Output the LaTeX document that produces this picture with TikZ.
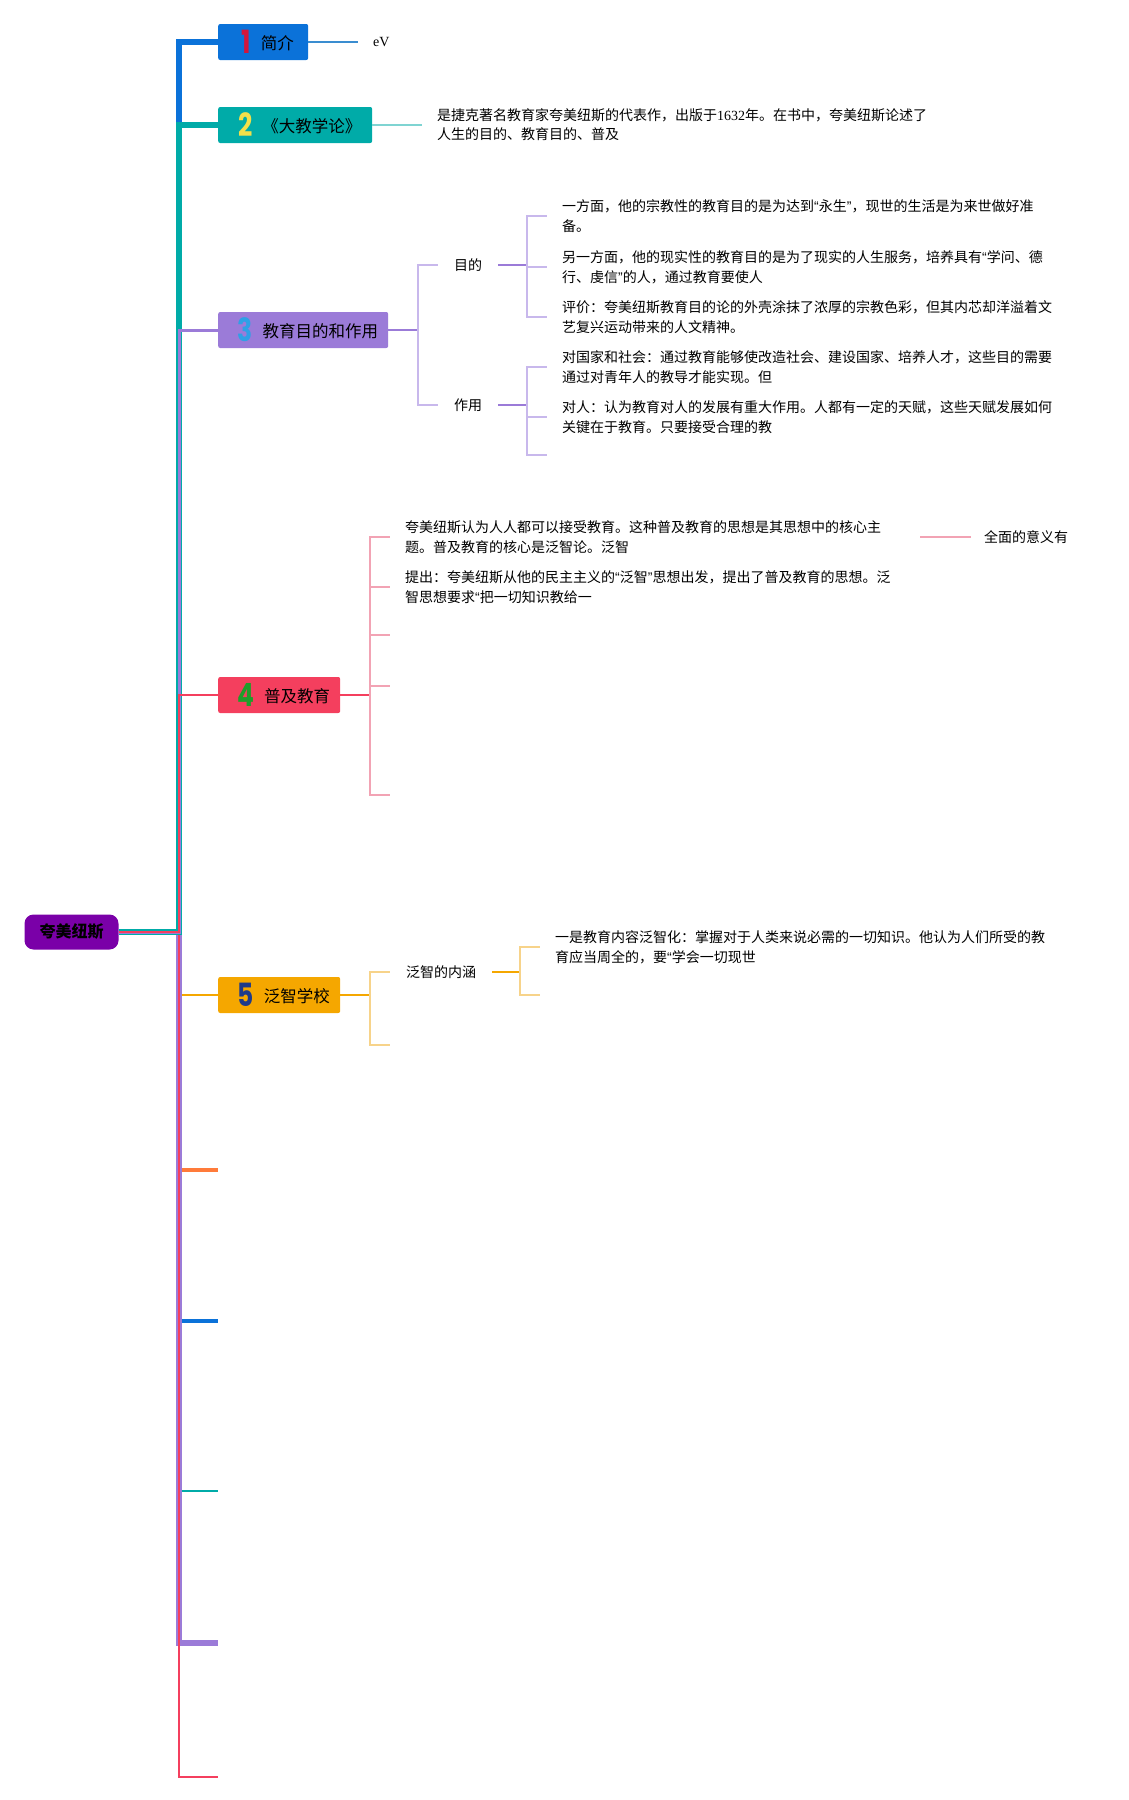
\documentclass[tikz,border=0pt]{standalone}
\usepackage{fontspec}
\usepackage{graphicx}
\setmainfont{Noto Sans CJK SC}
\newfontfamily\numfont{Poppins}
\newfontfamily\seriffont{Liberation Serif}
\newfontfamily\quotefont{Liberation Sans}
\usetikzlibrary{calc}

\definecolor{KMroot}{HTML}{7A00A8}
\definecolor{KMblue}{HTML}{0B72D9}
\definecolor{KMteal}{HTML}{00ABA8}
\definecolor{KMpurple}{HTML}{9B7BD8}
\definecolor{KMred}{HTML}{F43F5E}
\definecolor{KMamber}{HTML}{F5A700}
\definecolor{KMorange}{HTML}{FF7B3A}
\definecolor{KMblueL}{HTML}{3A8DD0}
\definecolor{KMtealL}{HTML}{7FD4D2}
\definecolor{KMpurpleL}{HTML}{C8B8EC}
\definecolor{KMredL}{HTML}{F2A3B4}
\definecolor{KMamberL}{HTML}{F7D38A}
\definecolor{KMdigA}{HTML}{D4163C}
\definecolor{KMdigB}{HTML}{F2E04A}
\definecolor{KMdigC}{HTML}{2FA0E6}
\definecolor{KMdigD}{HTML}{1E9E2A}
\definecolor{KMdigE}{HTML}{1E3A8A}

% coloured number and label of a topic box
\newcommand{\tnum}[3]{\hspace{9pt}\scalebox{0.78}[1]{\numfont\bfseries\fontsize{32}{32}\selectfont\textcolor{#1}{#2}}\hspace{10pt}\raisebox{4pt}{#3}}
% narrow quotes
\newcommand{\oq}{{\quotefont “}}
\newcommand{\cq}{{\quotefont ”}}

\begin{document}
\begin{tikzpicture}[x=1pt,y=-1pt,
   topic/.style={rectangle, rounded corners=2pt, minimum height=36pt, anchor=west,
      inner sep=0pt, font=\fontsize{16.5}{18}\selectfont},
   sub/.style={anchor=west, inner xsep=16pt, inner ysep=2pt, font=\fontsize{14}{16}\selectfont},
   leaf/.style={anchor=west, inner xsep=15pt, inner ysep=2pt, align=left, text width=503pt,
      font=\fontsize{14}{20}\selectfont},
   stub/.style={line width=2pt},
   twig/.style={line width=1.5pt}]
   \useasboundingbox (0,0) rectangle (1129,1800);
   % Root
   \node[fill=KMroot, rounded corners=9pt, minimum width=94pt, minimum height=35pt,
      font=\fontsize{16}{18}\selectfont\bfseries] (root) at (71.5,932) {夸美纽斯};
   \coordinate (spine) at (179,932);
   % Topics
   \node[topic, fill=KMblue, minimum width=90pt] (n1) at (218,42) {\tnum{KMdigA}{1}{简介}};
   \node[topic, fill=KMteal, minimum width=154pt] (n2) at (218,125) {\tnum{KMdigB}{2}{《大教学论》}};
   \node[topic, fill=KMpurple, minimum width=170pt] (n3) at (218,330) {\tnum{KMdigC}{3}{教育目的和作用}};
   \node[topic, fill=KMred, minimum width=122pt] (n4) at (218,695) {\tnum{KMdigD}{4}{普及教育}};
   \node[topic, fill=KMamber, minimum width=122pt] (n5) at (218,995) {\tnum{KMdigE}{5}{泛智学校}};
   % Empty topics at the bottom
   \coordinate (n6) at (218,1170);
   \coordinate (n7) at (218,1321);
   \coordinate (n8) at (218,1491);
   \coordinate (n9) at (218,1643);
   \coordinate (n10) at (218,1777);
   % Branches from root (lower half first)
   \draw[KMamber, line width=2pt] (root.east) -- (spine) |- (n5.west);
   \draw[KMorange, line width=3.6pt] (root.east) -- (spine) |- (n6);
   \draw[KMblue, line width=4.5pt] (root.east) -- (spine) |- (n7);
   \draw[KMteal, line width=2.8pt] (root.east) -- (spine) |- (n8);
   \draw[KMpurple, line width=5.5pt] (root.east) -- (spine) |- (n9);
   \draw[KMred, line width=2.2pt] (root.east) -- (spine) |- (n10);
   \draw[KMblue, line width=5.5pt] (root.east) -- (spine) |- (n1.west);
   \draw[KMteal, line width=5.5pt] (root.east) -- (spine) |- (n2.west);
   \draw[KMpurple, line width=3pt] (root.east) -- (spine) |- (n3.west);
   \draw[KMred, line width=2.2pt] (root.east) -- (spine) |- (n4.west);

   % 1 简介
   \node[sub, inner xsep=15pt] (ev) at (358,42) {\seriffont eV};
   \draw[KMblueL, line width=1.2pt] (n1.east) -- (ev.west);

   % 2 大教学论
   \node[leaf, font=\fontsize{14}{19}\selectfont] (t2) at (422,125)
      {是捷克著名教育家夸美纽斯的代表作，出版于{\seriffont 1632}年。在书中，夸美纽斯论述了\\人生的目的、教育目的、普及};
   \draw[KMtealL, twig] (n2.east) -- (t2.west);

   % 3 教育目的和作用
   \coordinate (b3) at (418,330);
   \draw[KMpurple, stub] (n3.east) -- (b3);
   \node[sub] (aim) at (438,265) {目的};
   \node[sub] (use) at (438,405) {作用};
   \draw[KMpurpleL, twig] (b3) |- (aim.west);
   \draw[KMpurpleL, twig] (b3) |- (use.west);
   \coordinate (b31) at (527,265);
   \coordinate (b32) at (527,405);
   \draw[KMpurple, stub] (aim.east) -- (b31);
   \draw[KMpurple, stub] (use.east) -- (b32);
   \node[leaf] (t31) at (547,216)
      {一方面，他的宗教性的教育目的是为达到\oq 永生\cq，现世的生活是为来世做好准\\备。};
   \node[leaf] (t32) at (547,267)
      {另一方面，他的现实性的教育目的是为了现实的人生服务，培养具有\oq 学问、德\\行、虔信\cq 的人，通过教育要使人};
   \node[leaf] (t33) at (547,317)
      {评价：夸美纽斯教育目的论的外壳涂抹了浓厚的宗教色彩，但其内芯却洋溢着文\\艺复兴运动带来的人文精神。};
   \node[leaf] (t34) at (547,367)
      {对国家和社会：通过教育能够使改造社会、建设国家、培养人才，这些目的需要\\通过对青年人的教导才能实现。但};
   \node[leaf] (t35) at (547,417)
      {对人：认为教育对人的发展有重大作用。人都有一定的天赋，这些天赋发展如何\\关键在于教育。只要接受合理的教};
   \coordinate (t36) at (547,455);
   \foreach \t in {t31,t32,t33} \draw[KMpurpleL, twig] (b31) |- (\t.west);
   \foreach \t in {t34,t35} \draw[KMpurpleL, twig] (b32) |- (\t.west);
   \draw[KMpurpleL, twig] (b32) |- (t36);

   % 4 普及教育
   \coordinate (b4) at (370,695);
   \draw[KMred, stub] (n4.east) -- (b4);
   \node[leaf] (p1) at (390,537)
      {夸美纽斯认为人人都可以接受教育。这种普及教育的思想是其思想中的核心主\\题。普及教育的核心是泛智论。泛智};
   \node[leaf] (p2) at (390,587)
      {提出：夸美纽斯从他的民主主义的\oq 泛智\cq 思想出发，提出了普及教育的思想。泛\\智思想要求\oq 把一切知识教给一};
   \coordinate (p3) at (390,635);
   \coordinate (p4) at (390,686);
   \coordinate (p5) at (390,795);
   \draw[KMredL, twig] (b4) |- (p1.west);
   \draw[KMredL, twig] (b4) |- (p2.west);
   \foreach \p in {p3,p4,p5} \draw[KMredL, twig] (b4) |- (\p);
   \node[sub, inner xsep=13pt] (whole) at (971,537) {全面的意义有};
   \draw[KMredL, twig] ([xshift=-3pt]p1.east) -- (whole.west);

   % 5 泛智学校
   \coordinate (b5) at (370,995);
   \draw[KMamber, stub] (n5.east) -- (b5);
   \node[sub] (pan) at (390,972) {泛智的内涵};
   \coordinate (pan2) at (390,1045);
   \draw[KMamberL, twig] (b5) |- (pan.west);
   \draw[KMamberL, twig] (b5) |- (pan2);
   \coordinate (b51) at (520,972);
   \draw[KMamber, stub] (pan.east) -- (b51);
   \node[leaf] (l1) at (540,947)
      {一是教育内容泛智化：掌握对于人类来说必需的一切知识。他认为人们所受的教\\育应当周全的，要\oq 学会一切现世};
   \coordinate (l2) at (540,995);
   \draw[KMamberL, twig] (b51) |- (l1.west);
   \draw[KMamberL, twig] (b51) |- (l2);
\end{tikzpicture}
\end{document}
